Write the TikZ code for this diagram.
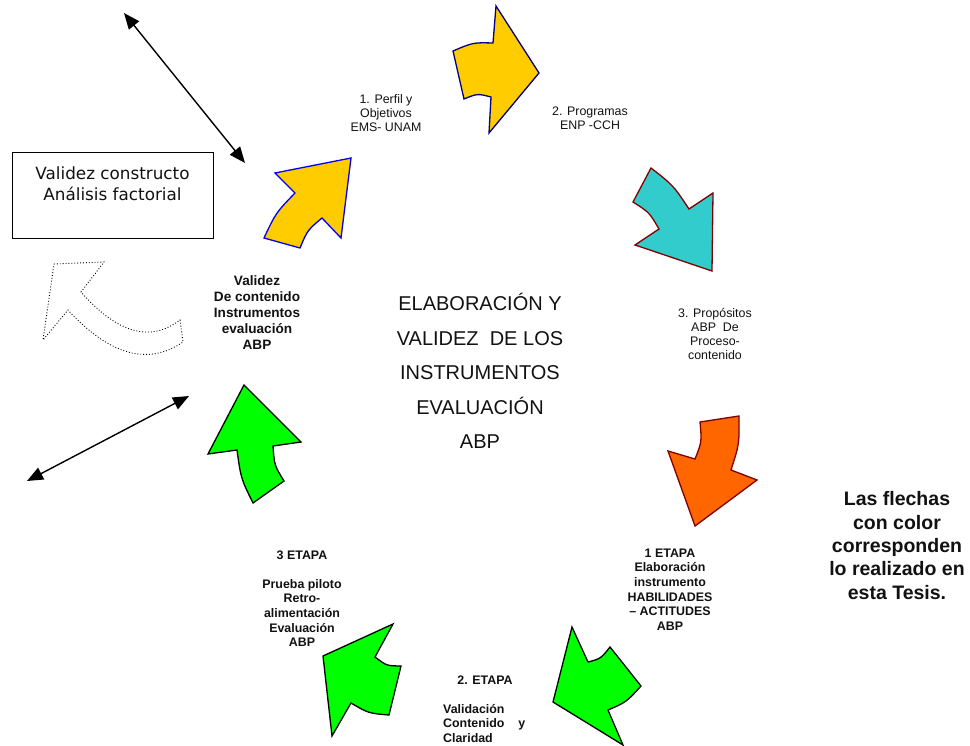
\documentclass[tikz,border=0pt]{standalone}
\usepackage{fontspec}
\setmainfont{Liberation Sans}
\newfontfamily\dejavu{DejaVu Sans}
\usetikzlibrary{arrows.meta}
\definecolor{ayellow}{HTML}{FFCC00}
\definecolor{acyan}{HTML}{33CCCC}
\definecolor{aorange}{HTML}{FF6600}
\definecolor{agreen}{HTML}{00FF00}
\definecolor{adred}{HTML}{800000}
\definecolor{anavy}{HTML}{000080}
\definecolor{ablue}{HTML}{0000EE}
\definecolor{txt}{HTML}{111111}
\begin{document}
\begin{tikzpicture}[x=1pt,y=-1pt,
  lbl/.style={font=\fontsize{12.4}{14}\selectfont, align=center, inner sep=0, text=txt},
  blbl/.style={font=\fontsize{12.4}{14.6}\selectfont\bfseries, align=center, inner sep=0, text=txt},
  vlbl/.style={font=\fontsize{13.6}{16}\selectfont\bfseries, align=center, inner sep=0, text=txt},
  biglbl/.style={font=\fontsize{20}{34.5}\selectfont, align=center, inner sep=0, text=txt},
  notelbl/.style={font=\fontsize{19.5}{23.3}\selectfont\bfseries, align=center, inner sep=0, text=txt},
  arrshape/.style={line width=1.3pt, line join=miter},
  yelA/.style={arrshape, fill=ayellow, draw=ablue},
  yelB/.style={arrshape, fill=ayellow, draw=anavy},
  cyn/.style={arrshape, fill=acyan, draw=adred},
  orn/.style={arrshape, fill=aorange, draw=adred},
  grn/.style={arrshape, fill=agreen, draw=black},
  dots/.style={draw=black, line width=0.9pt, dotted},
  dbl/.style={line width=1.4pt, {Triangle[length=16pt,width=13pt]}-{Triangle[length=16pt,width=13pt]}}
]
\useasboundingbox (0,0) rectangle (970,746);

% ---- arrows of the cycle ----
% yellow lower-left (1)
\draw[yelA] (351,158) -- (275,173) -- (295,193) .. controls (275.9,212.8) .. (264,238)
  -- (300,248) .. controls (307.5,230.2) .. (322,218) -- (341,238) -- cycle;
% yellow top (2)
\draw[yelB] (496,6) -- (539,73) -- (489,133) -- (491,97) .. controls (477.5,93.5) .. (464,99)
  -- (453,51) .. controls (473,42.5) .. (493,43) -- cycle;
% cyan (3)
\draw[cyn] (651,168) .. controls (673.3,185.4) .. (689,209) -- (713,193) -- (712,271)
  -- (635,245) -- (659,229) .. controls (649.3,212.4) .. (633,202) -- cycle;
% orange
\draw[orn] (700,422) -- (739,416) .. controls (739.3,444.2) .. (731,470) -- (757,480)
  -- (695,526) -- (668,451) -- (695,459) .. controls (701.8,441.9) .. (700,422) -- cycle;
% green bottom-right
\draw[grn] (572,627) -- (588,662) .. controls (600.7,658.7) .. (610,647) -- (641,686)
  .. controls (626.3,702.1) .. (608,710) -- (623,745) -- (553,702) -- cycle;
% green bottom-left
\draw[grn] (393,624) -- (375,657) .. controls (386.6,665.8) .. (401,666) -- (389,715)
  .. controls (368.6,713.3) .. (351,703) -- (332,736) -- (323,656) -- cycle;
% green left
\draw[grn] (244,385) -- (301,442) -- (273,446) .. controls (274.4,465.4) .. (284,481)
  -- (253,503) .. controls (240.9,478.4) .. (237,450) -- (208,454) -- cycle;
% dotted arrow
\draw[dots] (54,264) -- (104,262) -- (81,292) .. controls (117.3,333.3) and (150.3,342.7) .. (180,320)
  -- (183,342) .. controls (148,366) and (109.7,355.3) .. (68,310) -- (43,340) -- cycle;

% ---- box ----
\node[draw, line width=1pt, minimum width=201pt, minimum height=86pt, inner sep=0] (box) at (112.5,196) {};
\node[font=\dejavu\fontsize{16.8}{21}\selectfont, align=center, inner sep=0, text=txt] (boxtxt) at (112.5,184) {Validez constructo\\Análisis factorial};

% ---- double arrows ----
\coordinate (d1a) at (124,13);
\coordinate (d1b) at (245,163);
\coordinate (d2a) at (189,396);
\coordinate (d2b) at (27,481);
\draw[dbl] (d1a) -- (d1b);
\draw[dbl] (d2a) -- (d2b);

% ---- labels ----
\node[lbl] (perfil) at (386,113.5) {1. Perfil y\\Objetivos\\EMS- UNAM};
\node[lbl] (prog) at (590,118.5) {2. Programas\\ENP -CCH};
\node[lbl] (prop) at (715,334) {3. Propósitos\\ABP\ \ De\\Proceso-\\contenido};
\node[biglbl] (center) at (480,371) {ELABORACIÓN Y\\VALIDEZ\ \ DE LOS\\INSTRUMENTOS\\EVALUACIÓN\\ABP};
\node[vlbl] (valid) at (257,313) {Validez\\De contenido\\Instrumentos\\evaluación\\ABP};
\node[blbl] (et1) at (670,589.5) {1 ETAPA\\Elaboración\\instrumento\\HABILIDADES\\– ACTITUDES\\ABP};
\node[blbl] (et3) at (302,598.5) {3 ETAPA\\\mbox{}\\Prueba piloto\\Retro-\\alimentación\\Evaluación\\ABP};
\node[blbl] (et2) at (485,680) {2. ETAPA};
\node[blbl, align=left, anchor=west] (et2b) at (443,723.5) {Validación\\Contenido\ \ \ \ y\\Claridad};
\node[notelbl] (note) at (897,545.5) {Las flechas\\con color\\corresponden\\lo realizado en\\esta Tesis.};
\end{tikzpicture}
\end{document}
